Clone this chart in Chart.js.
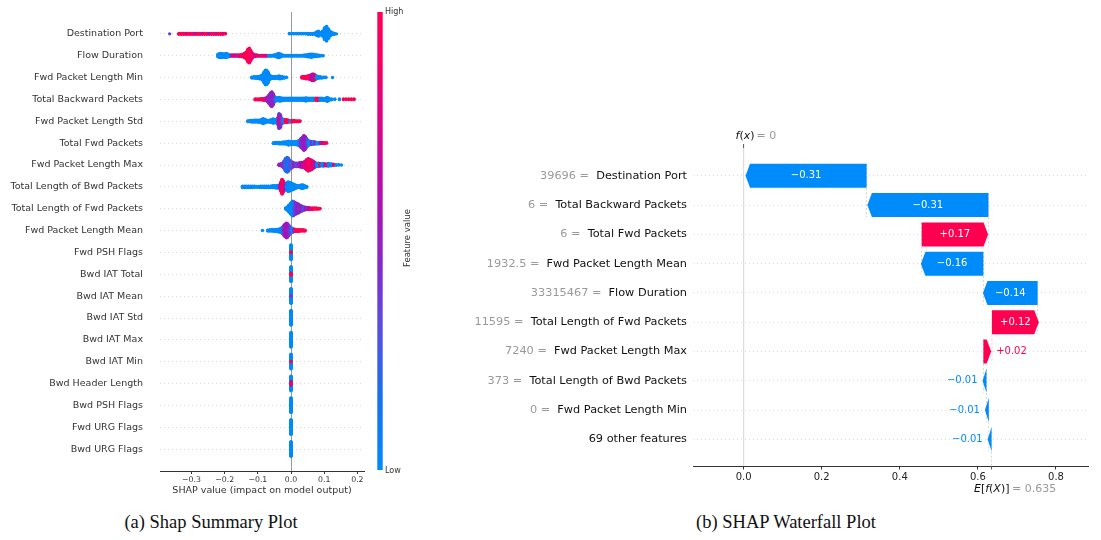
<!DOCTYPE html>
<html>
<head>
<meta charset="utf-8">
<script src="https://cdn.jsdelivr.net/npm/chart.js@4/dist/chart.umd.min.js"></script>
<style>
  html, body { margin: 0; padding: 0; background: #fff; }
  body { width: 1101px; height: 540px; position: relative; overflow: hidden; }
  #summary { position: absolute; left: 0; top: 0; }
  #waterfall { position: absolute; left: 440px; top: 0; }
  .cap { position: absolute; top: 511px; line-height: 22px; font-family: 'Liberation Serif', 'Times New Roman', serif;
         font-size: 18.5px; color: #111; white-space: nowrap; transform: translateX(-50%); }
</style>
</head>
<body>
<canvas id="summary" width="440" height="500"></canvas>
<canvas id="waterfall" width="661" height="500"></canvas>
<div class="cap" style="left:211px">(a) Shap Summary Plot</div>
<div class="cap" style="left:786px">(b) SHAP Waterfall Plot</div>
<script>
Chart.defaults.font.family = "'DejaVu Sans', sans-serif";
Chart.defaults.color = '#333';

// ---------- Summary (beeswarm) plot data ----------
// Feature names, top row first
const summaryFeatures = [
  'Destination Port', 'Flow Duration', 'Fwd Packet Length Min', 'Total Backward Packets',
  'Fwd Packet Length Std', 'Total Fwd Packets', 'Fwd Packet Length Max', 'Total Length of Bwd Packets',
  'Total Length of Fwd Packets', 'Fwd Packet Length Mean', 'Fwd PSH Flags', 'Bwd IAT Total',
  'Bwd IAT Mean', 'Bwd IAT Std', 'Bwd IAT Max', 'Bwd IAT Min', 'Bwd Header Length',
  'Bwd PSH Flags', 'Fwd URG Flags', 'Bwd URG Flags'
];

// Each entry: [SHAP value, number of samples, feature value level 0 (low) .. 1 (high)]
const destinationPort = [[-0.366,1,0.35],
  [-0.338,3,1],[-0.331,3,1],[-0.324,3,1],[-0.317,3,0.75],[-0.310,3,1],[-0.303,3,1],[-0.296,3,1],[-0.289,3,0.6],
  [-0.282,3,1],[-0.275,3,1],[-0.268,3,0.65],[-0.261,3,1],[-0.254,3,1],[-0.247,3,0.55],[-0.240,3,1],[-0.233,3,1],
  [-0.226,3,0.7],[-0.219,3,1],[-0.212,3,1],[-0.205,3,0.8],[-0.198,2,1],
  [-0.005,2,0],[0.002,2,0],[0.009,2,0],[0.016,2,0],[0.023,2,0],[0.030,2,0],[0.037,2,0],[0.044,2,0],[0.051,3,0],
  [0.058,3,0],[0.065,3,0],[0.071,4,0],[0.077,10,0],[0.083,14,0],[0.089,8,0],[0.095,14,0],[0.101,32,0],
  [0.107,40,0],[0.113,26,0],[0.119,12,0],[0.125,6,0],[0.131,3,0],[0.137,1,0]];
const flowDuration = [[-0.220,8,0],[-0.215,12,0],[-0.210,12,0],[-0.205,10,0],[-0.200,10,0],[-0.195,12,0],
  [-0.190,8,0],[-0.185,5,0],[-0.180,4,0.5],[-0.175,4,1],[-0.170,4,0.6],[-0.165,4,1],[-0.160,4,0.5],[-0.155,5,1],
  [-0.150,6,1],[-0.145,8,0.8],[-0.140,12,1],[-0.135,20,1],[-0.130,34,1],[-0.126,40,0.9],[-0.122,30,1],
  [-0.118,16,0.8],[-0.113,8,1],[-0.108,5,0.6],[-0.103,4,1],[-0.098,3,1],[-0.093,3,0.5],[-0.088,3,1],[-0.083,3,1],
  [-0.078,3,0.6],[-0.073,3,1],[-0.068,3,0],[-0.063,3,0],[-0.058,3,0],[-0.052,4,0],[-0.046,6,0],[-0.041,10,0],
  [-0.036,12,0],[-0.031,8,0],[-0.026,4,0],[-0.020,3,0],[-0.014,3,0],[-0.008,3,0],[-0.002,3,0],[0.004,3,0],
  [0.010,3,0],[0.016,3,0],[0.022,3,0],[0.028,3,0],[0.034,3,0],[0.040,4,0],[0.046,5,0],[0.051,7,0],[0.056,8,0],
  [0.061,9,0],[0.066,8,0],[0.071,6,0],[0.076,5,0],[0.081,4,0],[0.086,3,0],[0.091,2,0],[0.097,1,0]];
const fwdPacketLengthMin = [[-0.118,3,0],[-0.112,4,0],[-0.106,5,0],[-0.100,6,0],[-0.095,7,0],[-0.090,10,0],
  [-0.085,16,0],[-0.081,30,0],[-0.077,40,0],[-0.073,38,0],[-0.069,28,0],[-0.065,14,0],[-0.061,8,0],[-0.056,6,0],
  [-0.051,5,0],[-0.046,5,0],[-0.041,6,0],[-0.036,8,0],[-0.031,7,0],[-0.026,5,0],[-0.020,3,0],[-0.014,2,0],
  [0.033,4,1],[0.039,6,1],[0.045,7,1],[0.050,8,0.9],[0.055,10,1],[0.060,14,0.6],[0.064,18,0.55],[0.068,18,0.7],
  [0.072,14,0.9],[0.076,8,0],[0.081,6,0],[0.087,4,0],[0.093,3,0],[0.099,2,0],[0.105,2,0],[0.125,1,0]];
const totalBackwardPackets = [[-0.108,3,1],[-0.102,3,1],[-0.096,3,1],[-0.090,4,1],[-0.084,5,1],[-0.078,6,0.7],
  [-0.074,8,0.55],[-0.070,14,0.5],[-0.066,24,0.45],[-0.062,34,0.5],[-0.058,40,0.45],[-0.054,30,0.5],
  [-0.050,16,0.35],[-0.046,10,0],[-0.041,8,0],[-0.036,10,0],[-0.031,9,0],[-0.026,7,0],[-0.021,6,0],[-0.015,6,0],
  [-0.009,6,0],[-0.003,6,0],[0.003,6,0],[0.009,6,0],[0.015,6,0],[0.021,6,0],[0.027,6,0],[0.033,6,0],[0.039,7,0],
  [0.045,9,0],[0.051,7,0],[0.057,6,0],[0.063,6,0],[0.069,6,0],[0.075,6,1],[0.081,7,1],[0.087,6,0],[0.093,6,0],
  [0.099,5,0],[0.104,7,0],[0.109,11,0],[0.114,7,0],[0.122,3,0],[0.132,2,0],[0.146,2,0],[0.158,2,1],[0.166,2,1],
  [0.174,2,1],[0.182,2,1],[0.190,2,1]];
const fwdPacketLengthStd = [[-0.130,3,0],[-0.124,4,0],[-0.118,5,0],[-0.112,6,0],[-0.106,6,0],[-0.100,6,0],
  [-0.094,7,0],[-0.089,10,0],[-0.084,14,0],[-0.079,10,0],[-0.074,6,0],[-0.069,5,0],[-0.064,6,0],[-0.059,8,0],
  [-0.054,12,0],[-0.049,10,0],[-0.044,10,0],[-0.040,18,0.5],[-0.036,16,0.85],[-0.036,24,0.4],[-0.032,34,0.45],
  [-0.028,16,0.3],[-0.023,10,0],[-0.018,8,1],[-0.013,8,1],[-0.008,6,1],[-0.003,5,0],[0.003,5,1],[0.009,4,1],
  [0.015,3,1],[0.021,3,1],[0.027,2,1]];
const totalFwdPackets = [[-0.053,3,0],[-0.047,4,0],[-0.041,4,0],[-0.035,5,0],[-0.029,5,0],[-0.023,6,0],
  [-0.017,6,0],[-0.012,8,0],[-0.007,11,0],[-0.002,8,0],[0.004,8,0],[0.010,8,0],[0.015,9,0],[0.020,11,0],
  [0.025,16,0.3],[0.030,24,0.45],[0.035,32,0.5],[0.039,40,0.5],[0.043,34,0.55],[0.047,24,0.35],[0.052,14,0],
  [0.057,10,0],[0.062,8,0.5],[0.067,8,0],[0.072,6,0.6],[0.077,5,0],[0.083,5,0],[0.089,4,0.6],[0.095,4,0.7],
  [0.101,3,1],[0.107,2,1]];
const fwdPacketLengthMax = [[-0.036,4,0.5],[-0.031,6,0.5],[-0.026,10,0.4],[-0.021,20,0.3],[-0.017,34,0.2],
  [-0.012,40,0.15],[-0.008,36,0.2],[-0.003,24,0.3],[0.002,18,0.3],[0.007,12,0.5],[0.012,10,0.4],[0.017,10,0.3],
  [0.022,10,0.5],[0.027,12,0.6],[0.032,14,0.6],[0.037,14,0.7],[0.042,20,0.8],[0.047,28,0.85],[0.052,34,0.9],
  [0.057,30,0.9],[0.062,26,0.85],[0.067,20,0.8],[0.072,14,0.5],[0.077,8,0],[0.082,10,0],[0.087,8,1],[0.092,6,0],
  [0.097,8,0],[0.102,6,0.7],[0.107,5,1],[0.112,8,0],[0.117,6,0],[0.122,6,0],[0.128,4,1],[0.136,3,0],[0.144,2,0],
  [0.152,1,0]];
const totalLengthBwdPackets = [[-0.146,5,0],[-0.140,5,0],[-0.134,5,0],[-0.128,5,0],[-0.122,5,0],[-0.116,5,0],
  [-0.110,4,0],[-0.104,3,0],[-0.098,3,0],[-0.092,5,0],[-0.086,5,0],[-0.080,5,0],[-0.074,5,0],[-0.068,5,0],
  [-0.062,5,0],[-0.056,6,0],[-0.050,6,0],[-0.045,7,0],[-0.040,8,0],[-0.035,10,0.6],[-0.031,24,0.9],
  [-0.027,40,0.95],[-0.023,30,0.85],[-0.019,16,0.5],[-0.014,20,0],[-0.009,26,0],[-0.004,24,0],[0.001,20,0],
  [0.006,16,0],[0.011,12,0],[0.016,8,0],[0.021,6,0],[0.026,6,0],[0.031,10,0],[0.036,10,0],[0.041,6,0],[0.047,3,0]];
const totalLengthFwdPackets = [[-0.016,4,0],[-0.011,10,0],[-0.006,20,0],[-0.001,30,0],[0.004,40,0],
  [0.008,38,0.3],[0.013,32,0.4],[0.018,28,0.5],[0.023,24,0.4],[0.028,18,0.5],[0.033,14,0.4],[0.038,10,0.3],
  [0.043,8,0.6],[0.048,6,0.4],[0.053,6,0.6],[0.058,5,0.8],[0.064,5,1],[0.070,4,1],[0.076,4,1],[0.082,3,1],[0.087,2,1]];
const fwdPacketLengthMean = [[-0.086,1,0],[-0.070,3,0],[-0.064,4,0],[-0.058,4,0],[-0.052,5,0],[-0.046,6,0],
  [-0.040,7,0],[-0.035,9,0],[-0.030,12,0],[-0.026,18,0.3],[-0.022,26,0.5],[-0.018,34,0.6],[-0.014,40,0.55],
  [-0.010,36,0.5],[-0.006,26,0.4],[-0.002,18,0.3],[0.003,12,0],[0.008,8,0.5],[0.013,6,1],[0.018,5,1],[0.024,5,1],
  [0.030,4,1],[0.036,4,1],[0.042,3,1]];
const fwdPshFlags = [[0,2,1],[0,38,0]];
const bwdIatTotal = [[0,6,1],[0,34,0]];
const bwdIatMean = [[0,4,0.35],[0,36,0]];
const bwdIatStd = [[0,40,0]];
const bwdIatMax = [[0,40,0]];
const bwdIatMin = [[0,2,1],[0,38,0]];
const bwdHeaderLength = [[0,2,1],[0,8,0.55],[0,30,0]];
const bwdPshFlags = [[0,40,0]];
const fwdUrgFlags = [[0,40,0]];
const bwdUrgFlags = [[0,40,0]];

const summaryRows = [destinationPort, flowDuration, fwdPacketLengthMin, totalBackwardPackets, fwdPacketLengthStd,
  totalFwdPackets, fwdPacketLengthMax, totalLengthBwdPackets, totalLengthFwdPackets, fwdPacketLengthMean,
  fwdPshFlags, bwdIatTotal, bwdIatMean, bwdIatStd, bwdIatMax, bwdIatMin, bwdHeaderLength, bwdPshFlags,
  fwdUrgFlags, bwdUrgFlags];
const summaryTicks = [-0.3, -0.2, -0.1, 0.0, 0.1, 0.2];

// ---------- Waterfall plot data ----------
const wfFeatures = ['Destination Port', 'Total Backward Packets', 'Total Fwd Packets', 'Fwd Packet Length Mean',
  'Flow Duration', 'Total Length of Fwd Packets', 'Fwd Packet Length Max', 'Total Length of Bwd Packets',
  'Fwd Packet Length Min', '69 other features'];
const wfFeatureValues = ['39696', '6', '6', '1932.5', '33315467', '11595', '7240', '373', '0', null];
const wfShapValues = [-0.31, -0.31, 0.17, -0.16, -0.14, 0.12, 0.02, -0.01, -0.01, -0.01];
const wfStarts = [0.315, 0.627, 0.456, 0.614, 0.753, 0.636, 0.614, 0.622, 0.628, 0.635];
const wfBaseValue = 0.635;
const wfOutput = 0;
const wfTicks = [0.0, 0.2, 0.4, 0.6, 0.8];

// ---------- helpers ----------
const BLUE = '#008bfb', RED = '#ff0051';
const cmapStops = [[0,[0,138,250]],[0.15,[20,115,240]],[0.3,[85,80,225]],[0.45,[135,40,200]],
  [0.6,[175,15,175]],[0.75,[215,5,135]],[0.9,[245,0,98]],[1,[255,0,82]]];
function shapColor(t) {
  for (let k = 1; k < cmapStops.length; k++) {
    const [t1, c1] = cmapStops[k];
    if (t <= t1) {
      const [t0, c0] = cmapStops[k - 1];
      const f = (t - t0) / (t1 - t0);
      const c = c0.map((v, j) => Math.round(v + (c1[j] - v) * f));
      return `rgb(${c[0]},${c[1]},${c[2]})`;
    }
  }
  return 'rgb(255,0,82)';
}
const minusFmt = (v, d) => (v < -1e-9 ? '\u2212' : '') + Math.abs(v).toFixed(d);

// beeswarm layout: samples sharing a bin are stacked alternately around the row
function swarm(groups, row) {
  const pts = [];
  groups.forEach(([v, n, lvl]) => { for (let k = 0; k < n; k++) pts.push({ v, lvl }); });
  const lo = Math.min(...pts.map(p => p.v)), hi = Math.max(...pts.map(p => p.v));
  pts.forEach(p => { p.q = Math.round(100 * (p.v - lo) / (hi - lo + 1e-8)); });
  const order = pts.map((_, i) => i).sort((a, b) => pts[a].q - pts[b].q);
  let layer = 0, last = -1;
  order.forEach(i => {
    if (pts[i].q !== last) layer = 0;
    pts[i].off = Math.ceil(layer / 2) * ((layer % 2) * 2 - 1);
    layer++; last = pts[i].q;
  });
  const m = Math.max(...pts.map(p => p.off + 1));
  const sc = 0.9 * (0.4 / m);
  return pts.map(p => ({ x: p.v, y: row + p.off * sc, c: shapColor(p.lvl), o: Math.abs(p.off) }))
            .sort((a, b) => b.o - a.o);
}

const nRows = summaryFeatures.length;
const summaryDatasets = summaryRows.map((groups, i) => {
  const pts = swarm(groups, nRows - 1 - i);
  return {
    data: pts.map(p => ({ x: p.x, y: p.y })),
    pointBackgroundColor: pts.map(p => p.c),
    pointRadius: 1.7, pointHoverRadius: 1.7, pointBorderWidth: 0
  };
});

// keep the plot box fixed: no extra room reserved for half tick labels
const noLabelPadding = s => { s.paddingTop = 0; s.paddingBottom = 0; };

const colorbarPlugin = {
  id: 'colorbar',
  afterDraw(chart) {
    const ctx = chart.ctx;
    const top = 12, bottom = 470, left = 377.3, w = 5.4;
    const g = ctx.createLinearGradient(0, bottom, 0, top);
    for (let k = 0; k <= 20; k++) g.addColorStop(k / 20, shapColor(k / 20));
    ctx.save();
    ctx.fillStyle = g;
    ctx.fillRect(left, top, w, bottom - top);
    ctx.fillStyle = '#333';
    ctx.font = "8px 'DejaVu Sans'";
    ctx.textAlign = 'left'; ctx.textBaseline = 'middle';
    ctx.fillText('High', 385, top);
    ctx.fillText('Low', 385, bottom + 1);
    ctx.translate(408, 238);
    ctx.rotate(-Math.PI / 2);
    ctx.textAlign = 'center';
    ctx.font = "8.5px 'DejaVu Sans'";
    ctx.fillText('Feature value', 0, 0);
    ctx.restore();
  }
};

new Chart(document.getElementById('summary'), {
  type: 'scatter',
  data: { datasets: summaryDatasets },
  options: {
    responsive: false, animation: false, devicePixelRatio: 1, events: [],
    layout: { padding: { left: 0, right: 76, top: 12, bottom: 0 } },
    plugins: { legend: { display: false }, tooltip: { enabled: false } },
    scales: {
      x: {
        type: 'linear', min: -0.395, max: 0.22,
        afterBuildTicks: s => { s.ticks = summaryTicks.map(v => ({ value: v })); },
        afterFit: s => { s.height = 29; },
        ticks: { callback: v => minusFmt(v, 1), color: '#333', font: { size: 7.8 }, padding: 1, maxRotation: 0, autoSkip: false },
        grid: { color: c => (c.tick && Math.abs(c.tick.value) < 1e-9) ? '#999999' : 'rgba(0,0,0,0)',
                lineWidth: 1, drawTicks: true, tickLength: 3, tickColor: '#333', tickWidth: 1 },
        border: { color: '#333', width: 1 },
        title: { display: true, text: 'SHAP value (impact on model output)', color: '#333',
                 font: { size: 9.5 }, padding: { top: 0, bottom: 4 } }
      },
      y: {
        type: 'linear', min: -1, max: nRows,
        afterBuildTicks: s => { s.ticks = summaryFeatures.map((_, i) => ({ value: i })); },
        afterFit: s => { s.width = 160; noLabelPadding(s); },
        ticks: { callback: v => summaryFeatures[nRows - 1 - v], color: '#333', font: { size: 9.5 }, padding: 17, autoSkip: false },
        grid: { color: '#cfcfcf', lineWidth: 0.8, drawTicks: false },
        border: { display: false, dash: [1, 3] }
      }
    }
  },
  plugins: [colorbarPlugin]
});

// ---------- waterfall ----------
function drawPieces(ctx, pieces, x, y, size, color) {
  let cx = x;
  ctx.fillStyle = color;
  ctx.textAlign = 'left'; ctx.textBaseline = 'middle';
  pieces.forEach(([t, it]) => {
    ctx.font = (it ? 'italic ' : '') + size + "px 'DejaVu Sans'";
    ctx.fillText(t, cx, y);
    cx += ctx.measureText(t).width;
  });
}

const waterfallPlugin = {
  id: 'waterfallMarks',
  beforeDatasetsDraw(chart) {
    const { ctx, chartArea: a, scales: { x, y } } = chart;
    ctx.save();
    const xf = x.getPixelForValue(wfOutput);
    ctx.strokeStyle = '#dddddd'; ctx.lineWidth = 1.2;
    ctx.beginPath(); ctx.moveTo(xf, a.top); ctx.lineTo(xf, a.bottom); ctx.stroke();
    ctx.strokeStyle = '#c4c4c4'; ctx.lineWidth = 0.7; ctx.setLineDash([2, 2]);
    wfStarts.forEach((s, i) => {
      const px = x.getPixelForValue(s);
      const y1 = y.getPixelForValue(i - 0.4), y2 = Math.min(y.getPixelForValue(i + 1.4), a.bottom);
      ctx.beginPath(); ctx.moveTo(px, y1); ctx.lineTo(px, y2); ctx.stroke();
    });
    ctx.restore();
  },
  afterDatasetsDraw(chart) {
    const { ctx, scales: { x } } = chart;
    const meta = chart.getDatasetMeta(0);
    ctx.save();
    meta.data.forEach((el, i) => {
      const v = wfShapValues[i];
      const x0 = x.getPixelForValue(wfStarts[i]);
      const x1 = x.getPixelForValue(wfStarts[i] + v);
      const dir = Math.sign(x1 - x0);
      const w = Math.abs(x1 - x0);
      const hl = Math.min(w, 4.5);
      const yc = el.y, h = el.height / 2;
      const col = v >= 0 ? RED : BLUE;
      ctx.fillStyle = col;
      ctx.beginPath();
      ctx.moveTo(x0, yc - h);
      ctx.lineTo(x1 - dir * hl, yc - h);
      ctx.lineTo(x1, yc);
      ctx.lineTo(x1 - dir * hl, yc + h);
      ctx.lineTo(x0, yc + h);
      ctx.closePath();
      ctx.fill();
      const txt = (v >= 0 ? '+' : '\u2212') + Math.abs(v).toFixed(2);
      ctx.font = "10px 'DejaVu Sans'";
      ctx.textBaseline = 'middle';
      const tw = ctx.measureText(txt).width;
      if (tw + 6 < w) {
        ctx.fillStyle = '#fff'; ctx.textAlign = 'center';
        ctx.fillText(txt, (x0 + x1) / 2, yc);
      } else {
        ctx.fillStyle = col; ctx.textAlign = dir > 0 ? 'left' : 'right';
        ctx.fillText(txt, x1 + dir * 5, yc);
      }
    });
    ctx.restore();
  },
  afterDraw(chart) {
    const { ctx, chartArea: a, scales: { x, y } } = chart;
    ctx.save();
    // feature values in front of the names
    ctx.font = "11.3px 'DejaVu Sans'";
    ctx.textBaseline = 'middle'; ctx.textAlign = 'right';
    wfFeatures.forEach((name, i) => {
      if (wfFeatureValues[i] === null) return;
      const nw = ctx.measureText(name).width;
      ctx.fillStyle = '#999';
      ctx.fillText(wfFeatureValues[i] + ' =  ', a.left - 6 - nw, y.getPixelForValue(i));
    });
    // model output marker at top
    const xf = x.getPixelForValue(wfOutput);
    ctx.strokeStyle = '#555'; ctx.lineWidth = 1;
    ctx.beginPath(); ctx.moveTo(xf, a.top - 4); ctx.lineTo(xf, a.top); ctx.stroke();
    drawPieces(ctx, [['f', true], ['(', false], ['x', true], [')', false]], xf - 8, 136, 11, '#111');
    drawPieces(ctx, [['= ' + wfOutput, false]], xf + 13, 136, 11, '#999');
    // expected value marker at bottom
    const xb = x.getPixelForValue(wfBaseValue);
    ctx.beginPath(); ctx.moveTo(xb, a.bottom); ctx.lineTo(xb, a.bottom + 3.5); ctx.stroke();
    drawPieces(ctx, [['E', true], ['[', false], ['f', true], ['(', false], ['X', true], [')]', false]], xb - 17.6, 489, 11, '#111');
    drawPieces(ctx, [['= ' + wfBaseValue.toFixed(3), false]], xb + 20.4, 489, 11, '#999');
    ctx.restore();
  }
};

new Chart(document.getElementById('waterfall'), {
  type: 'bar',
  data: {
    datasets: [{
      data: wfShapValues.map((v, i) => ({ y: i, x: [wfStarts[i], wfStarts[i] + v] })),
      backgroundColor: 'rgba(0,0,0,0)', borderWidth: 0, barThickness: 24
    }]
  },
  options: {
    indexAxis: 'y', responsive: false, animation: false, devicePixelRatio: 1, events: [],
    layout: { padding: { left: 0, right: 13, top: 148, bottom: 0 } },
    plugins: { legend: { display: false }, tooltip: { enabled: false } },
    scales: {
      x: {
        type: 'linear', min: -0.1296, max: 0.882,
        afterBuildTicks: s => { s.ticks = wfTicks.map(v => ({ value: v })); },
        afterFit: s => { s.height = 34; },
        ticks: { callback: v => v.toFixed(1), color: '#222', font: { size: 10 }, padding: 1.5, maxRotation: 0, autoSkip: false },
        grid: { drawOnChartArea: false, drawTicks: true, tickLength: 3.5, tickColor: '#333' },
        border: { color: '#333', width: 1 }
      },
      y: {
        type: 'linear', reverse: true, min: -0.95, max: 9.91, offset: false,
        afterBuildTicks: s => { s.ticks = wfFeatures.map((_, i) => ({ value: i })); },
        afterFit: s => { s.width = 253; noLabelPadding(s); },
        ticks: { callback: v => wfFeatures[v], color: '#111', font: { size: 11.3 }, padding: 6, autoSkip: false },
        grid: { color: '#d4d4d4', lineWidth: 0.8, drawTicks: false, offset: false },
        border: { display: false, dash: [1, 3] }
      }
    }
  },
  plugins: [waterfallPlugin]
});
</script>
</body>
</html>
